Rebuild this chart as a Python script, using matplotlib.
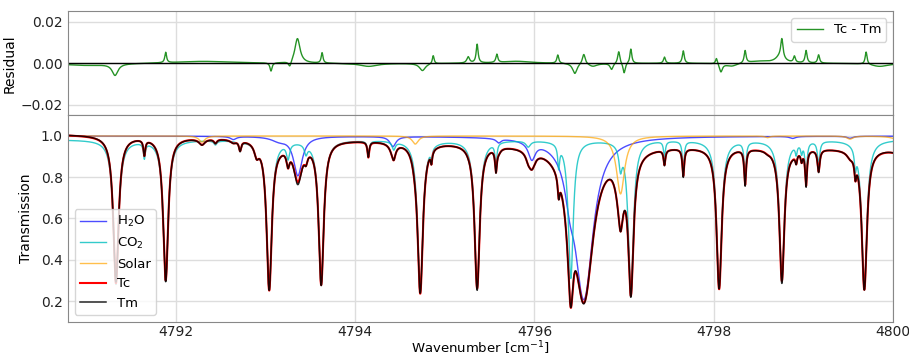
import numpy as np
import matplotlib.pyplot as plt

# line lists: (centre [cm-1], peak optical depth, half width [cm-1])
co2_lines = [
    (4791.33, 1.25, 0.026), (4791.647, 0.08, 0.012), (4791.885, 1.20, 0.025),
    (4792.44, 0.02, 0.020), (4792.715, 0.05, 0.015), (4792.90, 0.06, 0.030),
    (4793.04, 1.35, 0.025), (4793.25, 0.08, 0.020), (4793.45, 0.05, 0.020),
    (4793.62, 1.25, 0.025), (4794.146, 0.08, 0.012), (4794.43, 0.04, 0.020),
    (4794.725, 1.40, 0.025), (4794.85, 0.06, 0.010), (4795.36, 1.30, 0.025),
    (4795.57, 0.12, 0.012), (4795.93, 0.03, 0.030), (4796.27, 0.12, 0.012),
    (4796.405, 1.15, 0.025), (4796.96, 0.12, 0.020), (4797.075, 1.35, 0.025),
    (4797.45, 0.08, 0.012), (4797.66, 0.15, 0.012), (4798.06, 1.30, 0.025),
    (4798.35, 0.20, 0.012), (4798.76, 1.15, 0.025), (4798.92, 0.05, 0.012),
    (4798.98, 0.05, 0.012), (4799.03, 0.20, 0.012), (4799.17, 0.12, 0.015),
    (4799.58, 0.10, 0.012), (4799.68, 1.30, 0.025),
]
co2_background = 0.018

h2o_lines = [
    (4792.64, 0.015, 0.04), (4793.15, 0.02, 0.10), (4793.36, 0.21, 0.055),
    (4794.42, 0.05, 0.04), (4795.60, 0.02, 0.03), (4795.97, 0.09, 0.045),
    (4796.40, 0.20, 0.06), (4796.55, 1.55, 0.085), (4798.88, 0.01, 0.04),
    (4799.52, 0.01, 0.04),
]

solar_lines = [
    (4792.29, 0.03, 0.04), (4794.67, 0.04, 0.04), (4796.96, 0.33, 0.05),
    (4798.60, 0.008, 0.03), (4799.52, 0.015, 0.04), (4800.10, 0.03, 0.08),
]

# continuum level at the two ends of the window
cont_ends = (1.025, 0.955)

# residual features Tc - Tm: (centre, amplitude, half width)
resid_features = [
    (4791.00, -0.001, 0.30), (4791.32, -0.0055, 0.04), (4791.885, 0.005, 0.012),
    (4792.30, 0.001, 0.40), (4793.06, -0.004, 0.014), (4793.27, -0.003, 0.020),
    (4793.355, 0.012, 0.035), (4793.63, 0.005, 0.012), (4794.15, -0.0015, 0.12),
    (4794.75, -0.0035, 0.04), (4794.87, 0.004, 0.012), (4795.26, 0.003, 0.018),
    (4795.36, 0.009, 0.013), (4795.58, 0.004, 0.013), (4795.80, 0.001, 0.20),
    (4796.26, 0.004, 0.013), (4796.45, -0.005, 0.030), (4796.55, 0.005, 0.020),
    (4796.65, -0.0015, 0.06), (4796.86, -0.003, 0.020), (4796.94, 0.006, 0.015),
    (4797.00, -0.005, 0.015), (4797.075, 0.007, 0.013), (4797.45, 0.003, 0.013),
    (4797.66, 0.006, 0.013), (4798.03, 0.003, 0.013), (4798.08, -0.004, 0.020),
    (4798.20, -0.0015, 0.08), (4798.35, 0.006, 0.013), (4798.50, 0.001, 0.15),
    (4798.76, 0.009, 0.015), (4798.74, 0.003, 0.06), (4798.90, 0.003, 0.013),
    (4799.03, 0.006, 0.013), (4799.17, 0.004, 0.013), (4799.70, 0.006, 0.013),
    (4799.85, -0.0015, 0.12),
]

nu_min, nu_max = 4790.8, 4800.0


def lorentz_sum(nu, lines):
    out = np.zeros_like(nu)
    for c, a, g in lines:
        out += a * g**2 / ((nu - c)**2 + g**2)
    return out


nu = np.linspace(nu_min, nu_max, 9201)
t_h2o = np.exp(-lorentz_sum(nu, h2o_lines))
t_co2 = np.exp(-lorentz_sum(nu, co2_lines) - co2_background)
t_sol = np.exp(-lorentz_sum(nu, solar_lines))
cont = cont_ends[0] + (cont_ends[1] - cont_ends[0]) * (nu - nu_min) / (nu_max - nu_min)

tc = t_h2o * t_co2 * t_sol * cont
resid = lorentz_sum(nu, resid_features)
tm = tc - resid

plt.rcParams.update({
    'font.size': 10,
    'legend.fontsize': 9.5,
    'axes.edgecolor': '#888888',
    'xtick.major.size': 0,
    'ytick.major.size': 0,
    'xtick.major.pad': 2.5,
    'ytick.major.pad': 3.8,
    'xtick.color': '#222222',
    'ytick.color': '#222222',
    'grid.color': '#dddddd',
    'grid.linewidth': 1.0,
})

fig = plt.figure(figsize=(9.09, 3.57), dpi=100)
ax1 = fig.add_axes([0.0748, 0.677, 0.9076, 0.291])
ax2 = fig.add_axes([0.0748, 0.099, 0.9076, 0.578], sharex=ax1)

ax1.plot(nu, resid, color='g', lw=1, alpha=0.85, label='Tc - Tm')
ax1.axhline(0, color='k', lw=1)
ax1.set_ylim(-0.025, 0.025)
ax1.set_yticks([-0.02, 0.0, 0.02])
ax1.set_ylabel('Residual')
ax1.yaxis.set_label_coords(-0.062, 0.5)
ax1.grid(True)
ax1.tick_params(labelbottom=False)
ax1.legend(loc='upper right')

ax2.plot(nu, t_h2o, color='b', lw=1, alpha=0.7, label='H$_2$O')
ax2.plot(nu, t_co2, color='c', lw=1, alpha=0.8, label='CO$_2$')
ax2.plot(nu, t_sol, color='orange', lw=1, alpha=0.7, label='Solar')
ax2.plot(nu, tc, color='r', lw=1.5, label='Tc')
ax2.plot(nu, tm, color='k', lw=1.1, alpha=0.85, label='Tm')
ax2.set_xlim(4790.795, nu_max)
ax2.set_ylim(0.1, 1.1)
ax2.set_yticks([0.2, 0.4, 0.6, 0.8, 1.0])
ax2.set_xticks([4792, 4794, 4796, 4798, 4800])
ax2.set_ylabel('Transmission')
ax2.yaxis.set_label_coords(-0.042, 0.5)
ax2.set_xlabel('Wavenumber [cm$^{-1}$]', fontsize=9.5, labelpad=0.5)
ax2.grid(True)
ax2.legend(loc='lower left')

fig.savefig('out.png', dpi=100)
